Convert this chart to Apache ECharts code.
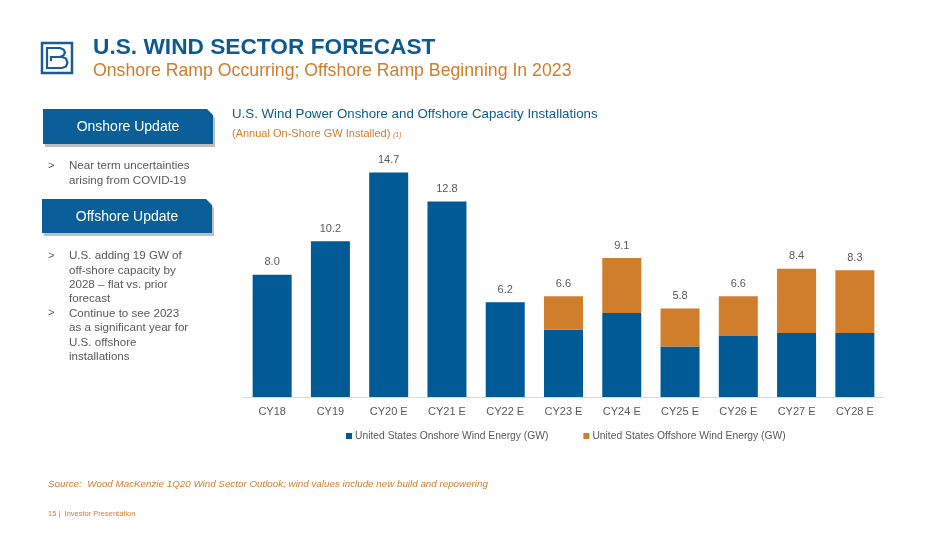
<!DOCTYPE html>
<html>
<head>
<meta charset="utf-8">
<script src="https://cdn.jsdelivr.net/npm/echarts@6/dist/echarts.min.js"></script>
<style>
html,body{margin:0;padding:0;background:#fff;}
#c{width:950px;height:534px;}
</style>
</head>
<body>
<div id="c"></div>
<script>
const categories = ['CY18','CY19','CY20 E','CY21 E','CY22 E','CY23 E','CY24 E','CY25 E','CY26 E','CY27 E','CY28 E'];
const onshore = [8.0,10.2,14.7,12.8,6.2,4.4,5.5,3.3,4.0,4.2,4.2];
const offshore = [0,0,0,0,0,2.2,3.6,2.5,2.6,4.2,4.1];
const totalLabels = ['8.0','10.2','14.7','12.8','6.2','6.6','9.1','5.8','6.6','8.4','8.3'];
const onshoreBullets = ['Near term uncertainties','arising from COVID-19'];
const offshoreBullets1 = ['U.S. adding 19 GW of','off-shore capacity by','2028 \u2013 flat vs. prior','forecast'];
const offshoreBullets2 = ['Continue to see 2023','as a significant year for','U.S. offshore','installations'];

const BLUE = '#005a96';
const ORANGE = '#d07d2c';
const DARKBLUE = '#0d5a8e';
const GRAY = '#595959';
const FONT = 'Liberation Sans, Arial, sans-serif';

const chart = echarts.init(document.getElementById('c'));

function boxEl(x, y, w, h, label) {
  return [
    {type: 'polygon', shape: {points: [[x+2,y+3],[x+w-4,y+3],[x+w+2,y+9],[x+w+2,y+h+3],[x+2,y+h+3]]}, style: {fill: 'rgba(0,0,0,0.25)'}, z: 1},
    {type: 'polygon', shape: {points: [[x,y],[x+w-6,y],[x+w,y+6],[x+w,y+h],[x,y+h]]}, style: {fill: '#0a5f98'}, z: 2},
    {type: 'text', x: x + w/2, y: y + h/2 + 1, style: {text: label, fill: '#fff', font: '14px ' + FONT, textAlign: 'center', textVerticalAlign: 'middle'}, z: 3}
  ];
}

const graphics = [];
const LOGO = '#1a5c96';
// logo
graphics.push({type: 'rect', shape: {x: 42, y: 43, width: 30, height: 30}, style: {fill: 'none', stroke: LOGO, lineWidth: 2.5}});
graphics.push({type: 'polyline', shape: {points: [[47,69],[47,48],[60,48],[63.5,49.5],[65,52.5],[63.5,55.5],[60,57],[51,57],[51,61]]}, style: {stroke: LOGO, lineWidth: 2.2, fill: 'none'}});
graphics.push({type: 'polyline', shape: {points: [[51,57],[62,57],[66,58.5],[67.5,62.5],[66,66.5],[62,68],[47,68]]}, style: {stroke: LOGO, lineWidth: 2.2, fill: 'none'}});
// titles
graphics.push({type: 'text', x: 93, y: 36, style: {text: 'U.S. WIND SECTOR FORECAST', fill: DARKBLUE, font: 'bold 22.7px ' + FONT}});
graphics.push({type: 'text', x: 93, y: 62, style: {text: 'Onshore Ramp Occurring; Offshore Ramp Beginning In 2023', fill: ORANGE, font: '17.7px ' + FONT}});
// chart title
graphics.push({type: 'text', x: 232, y: 108, style: {text: 'U.S. Wind Power Onshore and Offshore Capacity Installations', fill: DARKBLUE, font: '13.3px ' + FONT}});
graphics.push({type: 'text', x: 232, y: 128, style: {text: '(Annual On-Shore GW Installed)', fill: ORANGE, font: '11px ' + FONT}});
graphics.push({type: 'text', x: 393, y: 132, style: {text: '(1)', fill: ORANGE, font: 'italic 7px ' + FONT}});
// boxes
graphics.push(...boxEl(43, 109, 170, 35, 'Onshore Update'));
graphics.push(...boxEl(42, 199, 170, 34, 'Offshore Update'));
// bullets
function bullets(lines, y0, lh) {
  graphics.push({type: 'text', x: 48, y: y0, style: {text: '>', fill: GRAY, font: '11px ' + FONT}});
  lines.forEach((t, i) => graphics.push({type: 'text', x: 69, y: y0 + i*lh, style: {text: t, fill: GRAY, font: '11.6px ' + FONT}}));
}
bullets(onshoreBullets, 160, 14.4);
bullets(offshoreBullets1, 250, 14.4);
bullets(offshoreBullets2, 250 + 4*14.4, 14.4);
// footer
graphics.push({type: 'text', x: 48, y: 479, style: {text: 'Source:  Wood MacKenzie 1Q20 Wind Sector Outlook; wind values include new build and repowering', fill: ORANGE, font: 'italic 9.8px ' + FONT}});
graphics.push({type: 'text', x: 48, y: 510, style: {text: '15 |  Investor Presentation', fill: ORANGE, font: '7.5px ' + FONT}});

chart.setOption({
  animation: false,
  textStyle: {fontFamily: FONT},
  grid: {left: 243, right: 66, top: 168, height: 229},
  legend: {
    left: 341, top: 426, itemWidth: 6, itemHeight: 6, itemGap: 35,
    icon: 'rect',
    textStyle: {color: GRAY, fontSize: 10.3, padding: [0,0,0,-2]},
    data: ['United States Onshore Wind Energy (GW)', 'United States Offshore Wind Energy (GW)']
  },
  xAxis: {
    type: 'category', data: categories,
    axisLine: {lineStyle: {color: '#d9d9d9'}},
    axisTick: {show: false},
    axisLabel: {color: GRAY, fontSize: 11, margin: 9}
  },
  yAxis: {type: 'value', min: 0, max: 15, show: false, splitLine: {show: false}},
  series: [
    {name: 'United States Onshore Wind Energy (GW)', type: 'bar', stack: 'a', data: onshore, barWidth: 39, itemStyle: {color: BLUE}},
    {name: 'United States Offshore Wind Energy (GW)', type: 'bar', stack: 'a', data: offshore, barWidth: 39, itemStyle: {color: ORANGE},
     label: {show: true, position: 'top', distance: 7, color: GRAY, fontSize: 11, formatter: p => totalLabels[p.dataIndex]}}
  ],
  graphic: graphics
});
</script>
</body>
</html>
